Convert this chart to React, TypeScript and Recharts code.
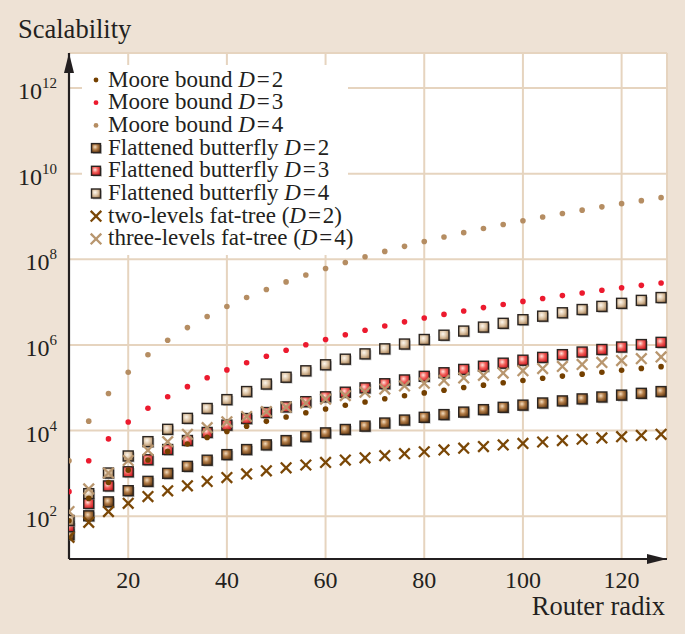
import React from 'react';
import { ScatterChart, Scatter, XAxis, YAxis, CartesianGrid, Legend } from 'recharts';

// ── Data ──────────────────────────────────────────────────────────────────────
const radix = [8, 12, 16, 20, 24, 28, 32, 36, 40, 44, 48, 52, 56, 60, 64, 68, 72, 76, 80, 84, 88, 92, 96, 100, 104, 108, 112, 116, 120, 124, 128];

const mooreD2 = [78.5, 260, 612, 1190, 2060, 3260, 4870, 6920, 9490, 12600, 16400, 20800, 26000, 32000, 38900, 46600, 55300, 65100, 75900, 87800, 101000, 115000, 131000, 148000, 167000, 187000, 208000, 231000, 256000, 283000, 311000];
const mooreD3 = [374, 1970, 6390, 15800, 33200, 61900, 106000, 171000, 261000, 384000, 545000, 752000, 1.01e6, 1.34e6, 1.73e6, 2.21e6, 2.78e6, 3.46e6, 4.25e6, 5.17e6, 6.23e6, 7.45e6, 8.84e6, 1.04e7, 1.22e7, 1.42e7, 1.64e7, 1.89e7, 2.16e7, 2.47e7, 2.8e7];
const mooreD4 = [1980, 16600, 73500, 231000, 588000, 1.29e6, 2.54e6, 4.62e6, 7.88e6, 1.28e7, 1.98e7, 2.97e7, 4.31e7, 6.11e7, 8.46e7, 1.15e8, 1.53e8, 2.01e8, 2.6e8, 3.33e8, 4.2e8, 5.25e8, 6.51e8, 7.99e8, 9.73e8, 1.18e9, 1.41e9, 1.68e9, 2.0e9, 2.35e9, 2.76e9];
const fbD2 = [37, 102, 216, 394, 651, 1000, 1460, 2030, 2740, 3600, 4630, 5830, 7230, 8830, 10600, 12700, 15000, 17600, 20400, 23600, 27000, 30800, 34900, 39300, 44100, 49300, 54900, 60900, 67300, 74100, 81400];
const fbD3 = [57, 198, 509, 1090, 2080, 3610, 5860, 9040, 13400, 19100, 26400, 35700, 47300, 61500, 78700, 99300, 124000, 152000, 185000, 224000, 268000, 318000, 375000, 440000, 512000, 593000, 683000, 783000, 894000, 1.02e6, 1.15e6];
const fbD4 = [79.6, 336, 1020, 2550, 5510, 10700, 19300, 32800, 52800, 81500, 122000, 176000, 249000, 344000, 465000, 619000, 811000, 1.05e6, 1.34e6, 1.69e6, 2.11e6, 2.61e6, 3.2e6, 3.89e6, 4.7e6, 5.64e6, 6.72e6, 7.96e6, 9.38e6, 1.1e7, 1.28e7];
const fatTree2 = [32, 72, 128, 200, 288, 392, 512, 648, 800, 968, 1150, 1350, 1570, 1800, 2050, 2310, 2590, 2890, 3200, 3530, 3870, 4230, 4610, 5000, 5410, 5830, 6270, 6730, 7200, 7690, 8190];
const fatTree3 = [128, 432, 1020, 2000, 3460, 5490, 8190, 11700, 16000, 21300, 27600, 35200, 43900, 54000, 65500, 78600, 93300, 110000, 128000, 148000, 170000, 195000, 221000, 250000, 281000, 315000, 351000, 390000, 432000, 477000, 524000];

const xTicks = [20, 40, 60, 80, 100, 120];
const yTicks = [1e2, 1e4, 1e6, 1e8, 1e10, 1e12];

// ── Styles ────────────────────────────────────────────────────────────────────
const FONT = '"Liberation Serif", "Times New Roman", serif';
const INK = '#231f20';
const BG = '#eee2d5';
const GRID = '#e6d4bf';

const toPoints = (vals: number[]) => radix.map((x, i) => ({ x, y: vals[i] }));

type Kind = 'dot' | 'square' | 'cross';
interface SeriesDef {
  key: string;
  label: string;
  d: string;
  paren?: boolean;
  kind: Kind;
  color: string;
  values: number[];
}

const MOORE: SeriesDef[] = [
  { key: 'm2', label: 'Moore bound ', d: '2', kind: 'dot', color: '#744000', values: mooreD2 },
  { key: 'm3', label: 'Moore bound ', d: '3', kind: 'dot', color: '#ec1a2e', values: mooreD3 },
  { key: 'm4', label: 'Moore bound ', d: '4', kind: 'dot', color: '#b58d62', values: mooreD4 },
];
const FLAT: SeriesDef[] = [
  { key: 'f2', label: 'Flattened butterfly ', d: '2', kind: 'square', color: 'url(#gFb2) #8a5a2a', values: fbD2 },
  { key: 'f3', label: 'Flattened butterfly ', d: '3', kind: 'square', color: 'url(#gFb3) #e84040', values: fbD3 },
  { key: 'f4', label: 'Flattened butterfly ', d: '4', kind: 'square', color: 'url(#gFb4) #d0b494', values: fbD4 },
];
const FAT: SeriesDef[] = [
  { key: 't2', label: 'two-levels fat-tree (', d: '2', paren: true, kind: 'cross', color: '#7a4706', values: fatTree2 },
  { key: 't3', label: 'three-levels fat-tree (', d: '4', paren: true, kind: 'cross', color: '#b8966e', values: fatTree3 },
];
const LEGEND_ORDER = [...MOORE, ...FLAT, ...FAT];
// drawing order: squares below crosses, dots on top
const DRAW_ORDER = [...FLAT, ...FAT, ...MOORE];

function Marker({ kind, color, cx, cy, small }: { kind: Kind; color: string; cx: number; cy: number; small?: boolean }) {
  if (kind === 'dot') return <circle cx={cx} cy={cy} r={small ? 2.4 : 2.8} fill={color} />;
  if (kind === 'cross') {
    const h = 5.3;
    return (
      <g stroke={color} strokeWidth={2.3} strokeLinecap="butt">
        <line x1={cx - h} y1={cy - h} x2={cx + h} y2={cy + h} />
        <line x1={cx - h} y1={cy + h} x2={cx + h} y2={cy - h} />
      </g>
    );
  }
  const s = small ? 9 : 10;
  return (
    <g>
      <rect x={cx - s / 2 + 1.4} y={cy - s / 2 + 1.4} width={s} height={s} fill="#8f8f8f" opacity={0.55} />
      <rect x={cx - s / 2} y={cy - s / 2} width={s} height={s} fill={color} stroke="#2a2420" strokeWidth={1.4} />
    </g>
  );
}

const XTick = (p: any) => (
  <text x={p.x} y={588} textAnchor="middle" fontFamily={FONT} fontSize={24} fill={INK}>
    {p.payload.value}
  </text>
);

const YTick = (p: any) => {
  const exp = Math.round(Math.log10(p.payload.value));
  return (
    <text x={57} y={p.y + 11} textAnchor="end" fontFamily={FONT} fontSize={24} fill={INK}>
      10<tspan fontSize={15} dy={-11}>{exp}</tspan>
    </text>
  );
};

function LegendBox() {
  return (
    <div style={{ background: '#fff', width: 266, height: 190, overflow: 'visible' }}>
      <svg width={290} height={190} style={{ overflow: 'visible', display: 'block' }}>
        {LEGEND_ORDER.map((s, i) => {
          const base = 21.5 + i * 22.7;
          return (
            <g key={s.key}>
              <Marker kind={s.kind} color={s.color} cx={14} cy={base - 6.5} small />
              <text x={26} y={base} fontFamily={FONT} fontSize={23} fill={INK}>
                {s.label}
                <tspan fontStyle="italic">D</tspan>
                {'\u200a=\u200a'}
                {s.d}
                {s.paren ? ')' : ''}
              </text>
            </g>
          );
        })}
      </svg>
    </div>
  );
}

export default function App() {
  return (
    <div style={{ position: 'absolute', left: 0, top: 0, width: 685, height: 634, background: BG }}>
      <ScatterChart width={685} height={634} margin={{ top: 53, right: 18, bottom: 45, left: 9 }}>
        <defs>
          <radialGradient id="gFb2" cx="40%" cy="38%" r="70%">
            <stop offset="0%" stopColor="#f4ddc0" />
            <stop offset="45%" stopColor="#b07a45" />
            <stop offset="100%" stopColor="#5b3410" />
          </radialGradient>
          <radialGradient id="gFb3" cx="40%" cy="38%" r="70%">
            <stop offset="0%" stopColor="#ffe2dc" />
            <stop offset="45%" stopColor="#f2605a" />
            <stop offset="100%" stopColor="#c8141e" />
          </radialGradient>
          <radialGradient id="gFb4" cx="40%" cy="38%" r="70%">
            <stop offset="0%" stopColor="#fdf7ee" />
            <stop offset="50%" stopColor="#dcc3a4" />
            <stop offset="100%" stopColor="#a07a52" />
          </radialGradient>
        </defs>
        <CartesianGrid fill="#fff" stroke={GRID} strokeWidth={2} />
        <XAxis
          type="number"
          dataKey="x"
          domain={[8, 129.2]}
          ticks={xTicks}
          allowDataOverflow
          axisLine={{ stroke: INK, strokeWidth: 2.2 }}
          tickLine={false}
          tick={XTick}
          height={30}
        />
        <YAxis
          type="number"
          dataKey="y"
          scale="log"
          domain={[10, 6.6e12]}
          ticks={yTicks}
          allowDataOverflow
          axisLine={{ stroke: INK, strokeWidth: 2.2 }}
          tickLine={false}
          tick={YTick}
          width={60}
        />
        <Legend
          layout="vertical"
          align="center"
          verticalAlign="middle"
          wrapperStyle={{ left: 82, top: 65, width: 266, height: 190, overflow: 'visible' }}
          content={() => <LegendBox />}
        />
        {DRAW_ORDER.map((s) => (
          <Scatter
            key={s.key}
            name={s.key}
            data={toPoints(s.values)}
            isAnimationActive={false}
            shape={(p: any) => <Marker kind={s.kind} color={s.color} cx={p.cx} cy={p.cy} />}
          />
        ))}
      </ScatterChart>
      <svg width={685} height={634} style={{ position: 'absolute', left: 0, top: 0, pointerEvents: 'none' }}>
        <polygon points="69,53 64,73 74,73" fill={INK} />
        <polygon points="667,559 647,554 647,564" fill={INK} />
        <text x={18} y={38} fontFamily={FONT} fontSize={26.5} fill={INK}>Scalability</text>
        <text x={665} y={615} textAnchor="end" fontFamily={FONT} fontSize={26.5} fill={INK}>Router radix</text>
      </svg>
    </div>
  );
}
